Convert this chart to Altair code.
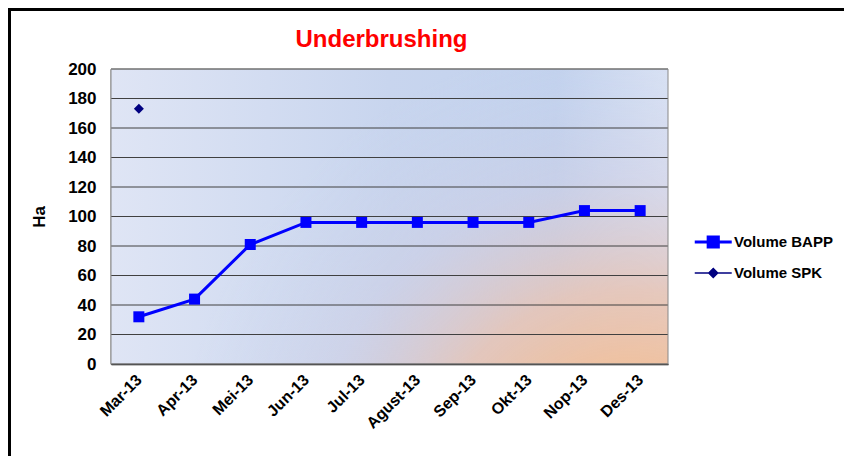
import altair as alt
import pandas as pd

months = ["Mar-13", "Apr-13", "Mei-13", "Jun-13", "Jul-13", "Agust-13",
          "Sep-13", "Okt-13", "Nop-13", "Des-13"]
bapp = [32, 44, 81, 96, 96, 96, 96, 96, 104, 104]
spk_months = ["Mar-13"]
spk = [173]
series_names = ["Volume BAPP", "Volume SPK"]
series_colors = ["#0000ff", "#000080"]
y_ticks = [0, 20, 40, 60, 80, 100, 120, 140, 160, 180, 200]

W, H = 557, 295
PL, PT, PR, PB = 103, 61, 176, 92

df_bapp = pd.DataFrame({"month": months, "value": bapp, "series": "Volume BAPP"})
df_spk = pd.DataFrame({"month": spk_months, "value": spk, "series": "Volume SPK"})
df_all = pd.concat([df_bapp, df_spk], ignore_index=True)
df_ticks = pd.DataFrame({"value": y_ticks})
one = pd.DataFrame({"k": [0]})

x_enc = alt.X("month:O", sort=months, title=None,
              scale=alt.Scale(type="point", padding=0.5),
              axis=alt.Axis(labelAngle=-45, labelAlign="right", labelBaseline="middle",
                            labelFontSize=16, labelFontWeight="bold", labelPadding=13,
                            ticks=False, domainColor="#000000", domainWidth=1.5,
                            grid=False, labelColor="#000000", labelOverlap=False))
y_enc = alt.Y("value:Q", title="Ha",
              scale=alt.Scale(domain=[0, 200], nice=False),
              axis=alt.Axis(values=y_ticks, tickCount=11, labelFontSize=17, labelOverlap=False,
                            labelFontWeight="bold", labelPadding=15, ticks=False,
                            domainColor="#000000", domainWidth=1.5, grid=False,
                            titleFontSize=17, titleFontWeight="bold", titlePadding=19,
                            labelColor="#000000", titleColor="#000000"))

bg_lin = alt.LinearGradient(
    gradient="linear", x1=0, y1=0, x2=1, y2=0,
    stops=[alt.GradientStop(color="#dfe5f5", offset=0),
           alt.GradientStop(color="#c8d5ee", offset=0.5),
           alt.GradientStop(color="#c2d2ee", offset=0.8),
           alt.GradientStop(color="#d9e2f4", offset=1)])
bg_rad = alt.RadialGradient(
    gradient="radial", x1=0.93, y1=1.0, r1=0, x2=0.93, y2=1.0, r2=0.82,
    stops=[alt.GradientStop(color="rgba(248,186,132,1)", offset=0),
           alt.GradientStop(color="rgba(245,190,145,1)", offset=0.2),
           alt.GradientStop(color="rgba(232,196,180,0.85)", offset=0.45),
           alt.GradientStop(color="rgba(210,203,222,0.35)", offset=0.7),
           alt.GradientStop(color="rgba(200,210,235,0)", offset=1)])

base_rect = alt.Chart(one).encode(x=alt.value(0), x2=alt.value(W), y=alt.value(0), y2=alt.value(H))
bg1 = base_rect.mark_rect(color=bg_lin)
bg2 = base_rect.mark_rect(color=bg_rad)

frame = alt.Chart(one).mark_rect(fillOpacity=0, stroke="#000000", strokeWidth=3).encode(
    x=alt.value(-PL + 1.5), x2=alt.value(W + PR + 40),
    y=alt.value(-PT + 1.5), y2=alt.value(H + PB + 40))

border = base_rect.mark_rect(fillOpacity=0, stroke="#888888", strokeWidth=1)

grid = alt.Chart(df_ticks).mark_rule(color="#404040", strokeWidth=1).encode(y=y_enc)

line = alt.Chart(df_bapp).mark_line(color="#0000ff", strokeWidth=3).encode(
    x=x_enc, y=y_enc)
pts = alt.Chart(df_bapp).mark_point(shape="square", filled=True, size=121,
                                    color="#0000ff", opacity=1).encode(
    x=x_enc, y=y_enc)
spk_pts = alt.Chart(df_spk).mark_point(shape="diamond", filled=True, size=100,
                                       color="#000080", opacity=1).encode(
    x=x_enc, y=y_enc)

sym_bapp = "M-1,0H3M0.45,-0.55H1.55V0.55H0.45Z"
sym_spk = "M-1,0H3M1,-0.48L1.48,0L1,0.48L0.52,0Z"

leg = alt.Legend(title=None, orient="none", legendX=582, legendY=162,
                 symbolSize=342, symbolOpacity=1, labelFontSize=15,
                 labelFontWeight="bold", labelColor="#000000", labelOffset=19,
                 rowPadding=9, labelFont="Liberation Sans")
legend_layer = alt.Chart(df_all).mark_point(filled=True, opacity=0, size=342).encode(
    x=x_enc, y=y_enc,
    color=alt.Color("series:N", scale=alt.Scale(domain=series_names, range=series_colors), legend=leg),
    stroke=alt.Stroke("series:N", scale=alt.Scale(domain=series_names, range=series_colors), legend=leg),
    shape=alt.Shape("series:N", scale=alt.Scale(domain=series_names, range=[sym_bapp, sym_spk]), legend=leg),
    strokeWidth=alt.StrokeWidth("series:N", scale=alt.Scale(domain=series_names, range=[3, 1.5]), legend=leg),
)

chart = alt.layer(frame, bg1, bg2, grid, border, line, pts, spk_pts, legend_layer).properties(
    width=W, height=H,
    autosize=alt.AutoSizeParams(type="none"),
    padding={"left": PL, "top": PT, "right": PR, "bottom": PB},
    title=alt.TitleParams("Underbrushing", color="#ff0000", fontSize=24,
                          font="Liberation Sans", fontWeight="bold",
                          anchor="middle", frame="group", offset=-44, dx=-8),
).configure(
    font="Liberation Sans",
).configure_view(stroke=None).configure_axis(
    labelFont="Liberation Sans", titleFont="Liberation Sans"
)

chart.save("out.html", embed_options={"renderer": "svg", "actions": False})
